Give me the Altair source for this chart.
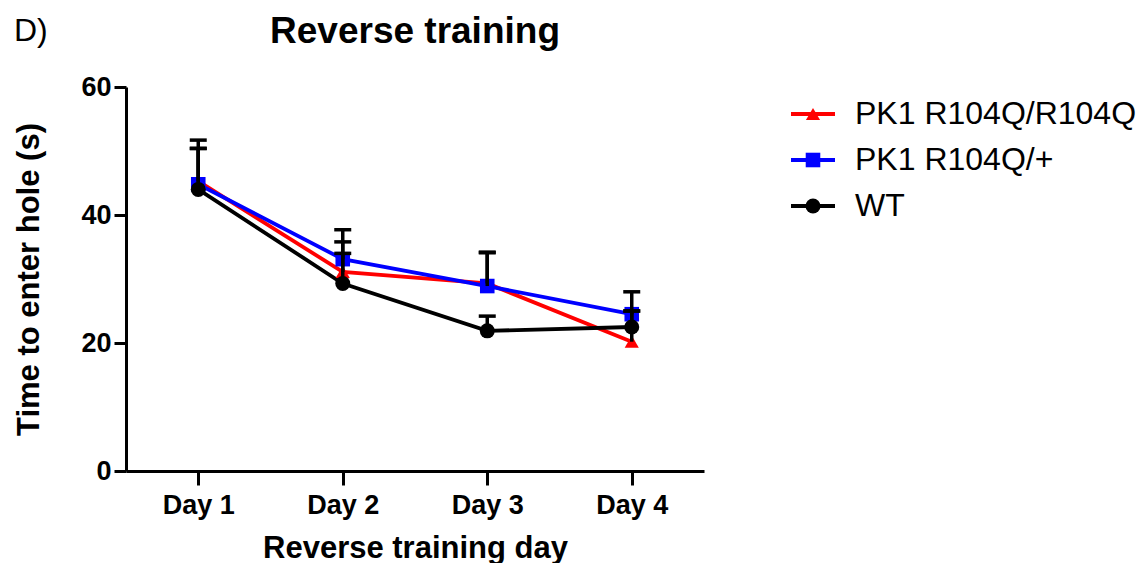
import altair as alt
import pandas as pd

# Training days and genotype groups
days = ["Day 1", "Day 2", "Day 3", "Day 4"]
groups = ["PK1 R104Q/R104Q", "PK1 R104Q/+", "WT"]

# Mean latency to enter the hole (s) per group and day
mean_homo = [45.3, 31.1, 29.3, 20.2]
mean_het = [44.8, 33.1, 28.9, 24.5]
mean_wt = [44.0, 29.3, 21.9, 22.5]

# Upper end of the error bar (mean + SEM)
upper_homo = [51.7, 35.8, 34.1, 25.0]
upper_het = [50.4, 37.7, 34.2, 28.0]
upper_wt = [50.4, 34.0, 24.2, 25.0]

colors = ["#ff0000", "#0000ff", "#000000"]
shapes = ["triangle-up", "square", "circle"]
marker_sizes = [200, 225, 225]

rows = []
for g, means, uppers in zip(groups,
                            [mean_homo, mean_het, mean_wt],
                            [upper_homo, upper_het, upper_wt]):
    for d, m, u in zip(days, means, uppers):
        rows.append({"day": d, "group": g, "mean": m, "upper": u})
df = pd.DataFrame(rows)

FONT = "Liberation Sans"
W, H = 578, 384

x_enc = alt.X(
    "day:N",
    scale=alt.Scale(type="point", domain=days, padding=0.5),
    axis=alt.Axis(
        title="Reverse training day",
        labelAngle=0,
        tickSize=14,
        labelPadding=7,
        labelFontSize=27,
        titleFontSize=31,
        titlePadding=15,
    ),
)
y_scale = alt.Scale(domain=[0, 60], nice=False)
y_enc = alt.Y(
    "mean:Q",
    scale=y_scale,
    axis=alt.Axis(
        title="Time to enter hole (s)",
        values=[0, 20, 40, 60],
        tickSize=12,
        labelPadding=3,
        labelFontSize=27,
        titleFontSize=31,
        titlePadding=35,
        grid=False,
    ),
)
color_enc = alt.Color("group:N", scale=alt.Scale(domain=groups, range=colors), legend=None)
shape_enc = alt.Shape("group:N", scale=alt.Scale(domain=groups, range=shapes), legend=None)
size_enc = alt.Size("group:N", scale=alt.Scale(domain=groups, range=marker_sizes), legend=None)

base = alt.Chart(df).encode(x=x_enc)

lines = base.mark_line(strokeWidth=3.8).encode(y=y_enc, color=color_enc)
points = base.mark_point(filled=True, opacity=1).encode(
    y=alt.Y("mean:Q", scale=y_scale), color=color_enc, shape=shape_enc, size=size_enc
)
err = base.mark_rule(strokeWidth=3.5, color="black", opacity=1).encode(
    y=alt.Y("mean:Q", scale=y_scale), y2="upper:Q"
)
caps = base.mark_tick(
    orient="horizontal", size=17, thickness=3.5, color="black", opacity=1
).encode(y=alt.Y("upper:Q", scale=y_scale))

main = alt.layer(lines, points, err, caps).properties(
    width=W,
    height=H,
    title=alt.TitleParams(
        "Reverse training", fontSize=37, fontWeight="bold", font=FONT,
        anchor="middle", offset=22, color="black",
    ),
)

# Legend panel: one row per group with a line sample, marker and label
leg_df = pd.DataFrame({"group": groups})
leg_y = alt.Y(
    "group:N",
    scale=alt.Scale(type="point", domain=groups, range=[27, 119], padding=0),
    axis=None,
)
leg_base = alt.Chart(leg_df).encode(y=leg_y)
leg_line = leg_base.mark_rule(strokeWidth=3.8).encode(
    x=alt.value(1), x2=alt.value(45), color=color_enc
)
leg_pt = leg_base.mark_point(filled=True, opacity=1).encode(
    x=alt.value(23), color=color_enc, shape=shape_enc, size=size_enc
)
leg_txt = leg_base.mark_text(
    align="left", baseline="middle", fontSize=32, font=FONT, color="black"
).encode(x=alt.value(65), text="group:N")
legend = alt.layer(leg_line, leg_pt, leg_txt).properties(width=340, height=H)

chart = (
    alt.hconcat(
        main, legend, spacing=86, bounds="flush",
        title=alt.TitleParams(
            "D)", anchor="start", fontSize=32, fontWeight="normal", font=FONT,
            offset=-35, color="black",
        ),
    )
    .properties(padding={"left": 13, "top": 13, "right": 0, "bottom": 0})
    .configure_view(stroke=None)
    .configure_axis(
        domainColor="black", domainWidth=3, tickColor="black", tickWidth=3,
        labelColor="black", titleColor="black",
        labelFont=FONT, titleFont=FONT,
        labelFontWeight="bold", titleFontWeight="bold",
    )
)

chart.save("out.html", embed_options={"renderer": "svg", "actions": False})
